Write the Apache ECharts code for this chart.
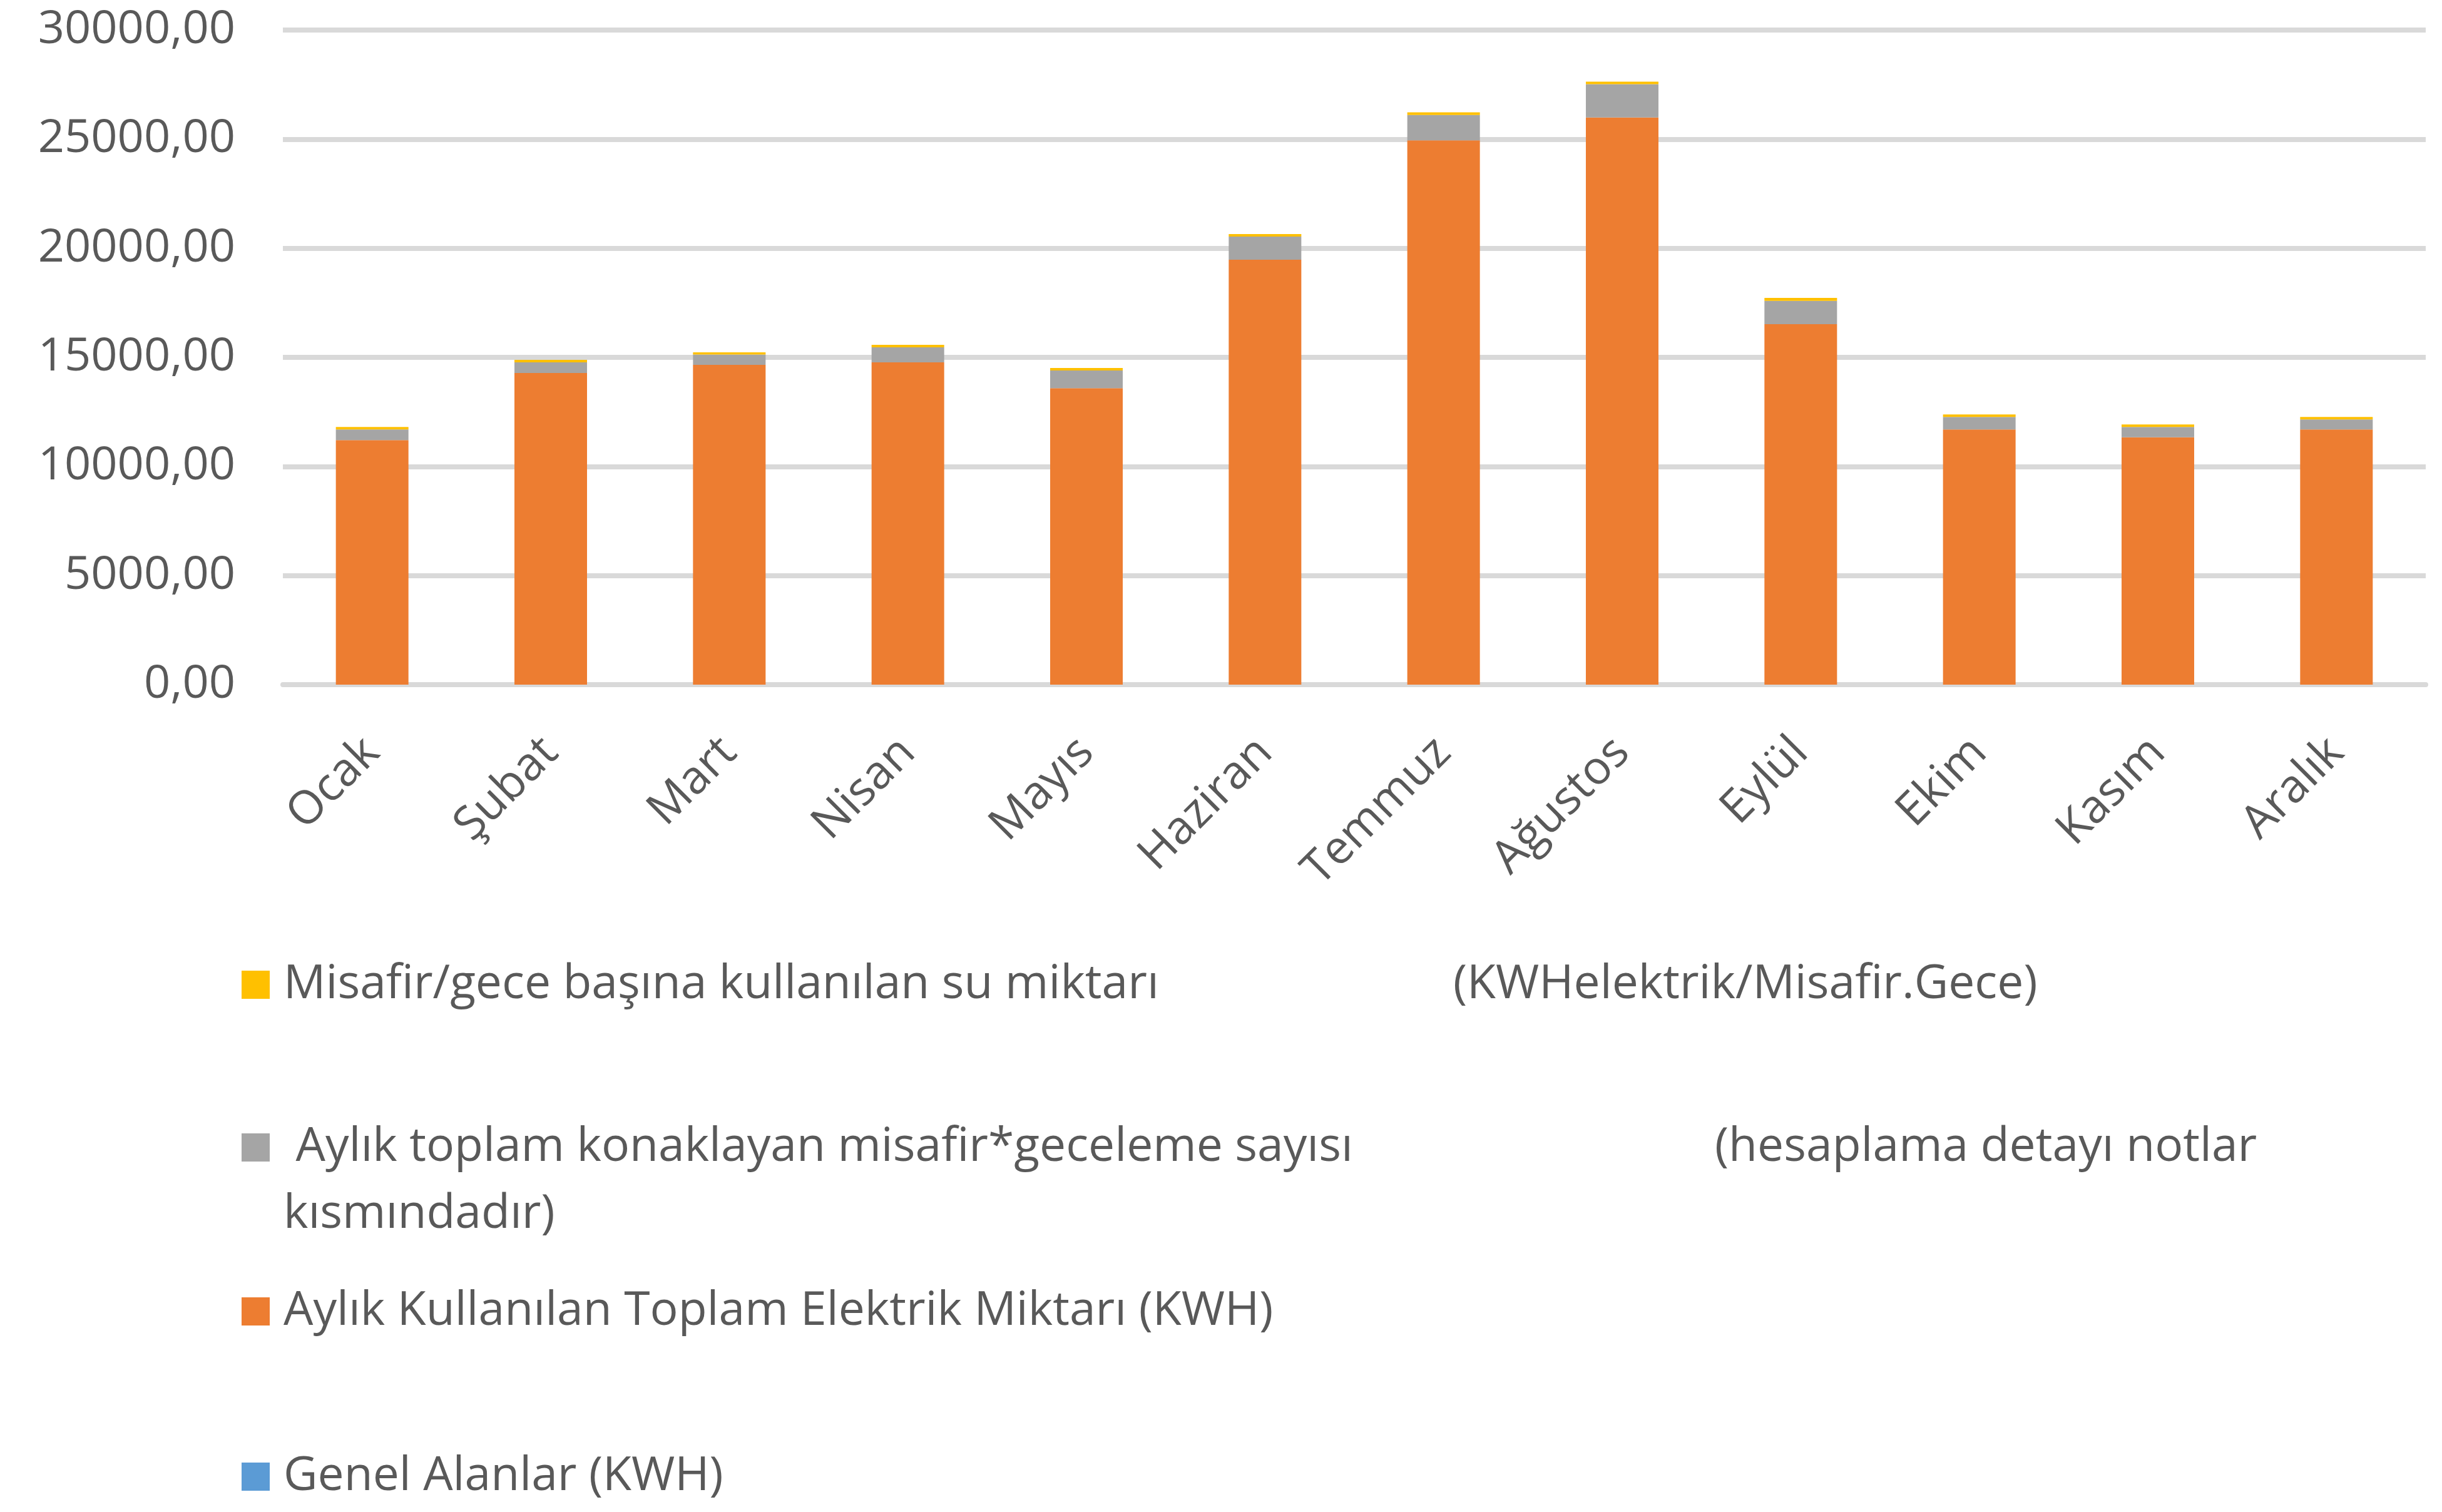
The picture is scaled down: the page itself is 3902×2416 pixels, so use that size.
<!DOCTYPE html>
<html>
<head>
<meta charset="utf-8">
<script src="https://cdn.jsdelivr.net/npm/echarts@6/dist/echarts.min.js"></script>
<style>
    html, body { margin: 0; padding: 0; background: #fff; }
    #chart { width: 3902px; height: 2416px; }
</style>
</head>
<body>
<div id="chart"></div>
<script>
// aylar ve seriler (alttan üste yığın sırası)
var aylar = ['Ocak', 'Şubat', 'Mart', 'Nisan', 'Mayıs', 'Haziran', 'Temmuz', 'Ağustos', 'Eylül', 'Ekim', 'Kasım', 'Aralık'];
var genelAlanlar = [0, 0, 0, 0, 0, 0, 0, 0, 0, 0, 0, 0];
var elektrik = [11207, 14281, 14654, 14769, 13589, 19471, 24942, 25995, 16523, 11692, 11333, 11692];
var misafirGece = [485, 488, 474, 692, 807, 1065, 1168, 1525, 1065, 576, 476, 462];
var suMiktari = [117, 115, 103, 114, 114, 114, 115, 114, 140, 115, 115, 114];

var adGenel = 'Genel Alanlar (KWH)';
var adElektrik = 'Aylık Kullanılan Toplam Elektrik Miktarı (KWH)';
var adMisafir = 'Aylık toplam konaklayan misafir*geceleme sayısı (hesaplama detayı notlar kısmındadır)';
var adSu = 'Misafir/gece başına kullanılan su miktarı (KWHelektrik/Misafir.Gece)';

var FONT = 'Open Sans';
var GRI = '#595959';

var legendText = {};
legendText[adSu] = '{a|Misafir/gece başına kullanılan su miktarı}{b|(KWHelektrik/Misafir.Gece)}';
legendText[adMisafir] = '\n{w| Aylık toplam konaklayan misafir*geceleme sayısı}{b|(hesaplama detayı notlar}\n{p|kısmındadır)}';
legendText[adElektrik] = '{p|Aylık Kullanılan Toplam Elektrik Miktarı (KWH)}';
legendText[adGenel] = '{p|Genel Alanlar (KWH)}';

function txt(extra) {
    var s = { fontFamily: FONT, fontSize: 75, color: GRI, lineHeight: 107 };
    for (var k in extra) s[k] = extra[k];
    return s;
}

function legendOf(name, top) {
    return {
        data: [name],
        left: 386,
        top: top,
        orient: 'vertical',
        icon: 'rect',
        itemWidth: 45,
        itemHeight: 45,
        padding: 0,
        selectedMode: false,
        formatter: function (n) { return legendText[n]; },
        textStyle: txt({
            rich: {
                a: txt({ width: 1869, padding: [0, 0, 0, 17] }),
                w: txt({ width: 2287, padding: [0, 0, 0, 17] }),
                b: txt({}),
                p: txt({ padding: [0, 0, 0, 17] })
            }
        })
    };
}

function bar(name, data, color) {
    return {
        name: name,
        type: 'bar',
        stack: 'toplam',
        barWidth: 116,
        data: data,
        itemStyle: { color: color }
    };
}

var chart = echarts.init(document.getElementById('chart'));
chart.setOption({
    animation: false,
    backgroundColor: '#fff',
    grid: { left: 452, right: 26, top: 48, bottom: 1322, containLabel: false },
    legend: [
        legendOf(adSu, 1520),
        legendOf(adMisafir, 1673),
        legendOf(adElektrik, 2042),
        legendOf(adGenel, 2306)
    ],
    xAxis: {
        type: 'category',
        data: aylar,
        axisTick: { show: false },
        axisLine: { lineStyle: { color: '#d9d9d9', width: 8 } },
        axisLabel: { interval: 0, rotate: 45, margin: 97, fontFamily: FONT, fontSize: 74, color: GRI }
    },
    yAxis: {
        type: 'value',
        min: 0,
        max: 30000,
        interval: 5000,
        axisLine: { show: false },
        axisTick: { show: false },
        splitLine: { lineStyle: { color: '#d9d9d9', width: 8 } },
        axisLabel: {
            margin: 76, fontFamily: FONT, fontSize: 74, color: GRI,
            formatter: function (v) { return v.toFixed(2).replace('.', ','); }
        }
    },
    series: [
        bar(adGenel, genelAlanlar, '#5B9BD5'),
        bar(adElektrik, elektrik, '#ED7D31'),
        bar(adMisafir, misafirGece, '#A5A5A5'),
        bar(adSu, suMiktari, '#FFC000')
    ]
});
</script>
</body>
</html>
